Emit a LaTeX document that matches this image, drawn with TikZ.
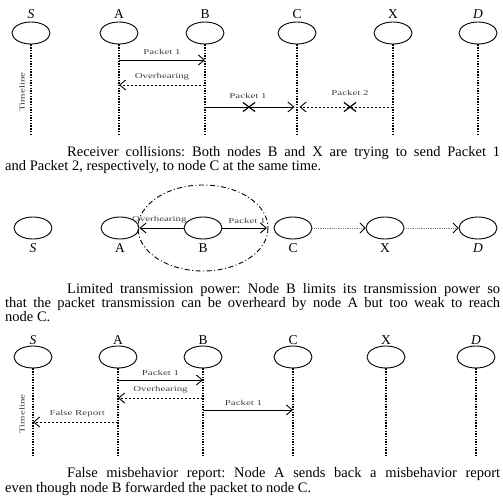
\documentclass[tikz,border=0pt]{standalone}
\usepackage{fontspec}
\usepackage{graphicx}
\setmainfont{Liberation Serif}
\usetikzlibrary{arrows.meta,shapes.geometric,shapes.misc}
\newcommand{\msgtext}[1]{\scalebox{1.45}[1]{\fontsize{7.5}{8}\selectfont #1}}
\frenchspacing
\begin{document}
\begin{tikzpicture}[x=1pt,y=-1pt,
  peer/.style={ellipse,draw,line width=0.9pt,minimum width=38pt,minimum height=22pt,inner sep=0pt},
  tag/.style={font=\fontsize{13.5}{13.5}\selectfont,inner sep=0pt},
  life/.style={line width=1.3pt,dash pattern=on 1.4pt off 1.3pt},
  tip/.style={-{Straight Barb[length=6pt,width=10pt,line width=0.9pt]}},
  msg/.style={tip,line width=0.9pt},
  dmsg/.style={tip,line width=0.9pt,dash pattern=on 2.5pt off 1.5pt},
  hop/.style={line width=0.8pt,gray,densely dotted,-{Straight Barb[length=5pt,width=10pt,line width=0.8pt,black]}},
  lbl/.style={inner sep=0pt,text=black!75},
  jam/.style={cross out,draw,line width=1.2pt,minimum width=11pt,minimum height=8pt,inner sep=0pt},
  note/.style={anchor=north west,inner sep=0pt,text width=495pt,align=justify,font=\fontsize{14.5}{14}\selectfont},
  timeline/.style={inner sep=0pt,rotate=90,text=black!75}
]
\useasboundingbox (0,0) rectangle (503,495);

% ---------- receiver collisions ----------
\foreach \n/\x/\t in {S/31/\textit{S},A/119/A,B/205/B,C/297/C,X/393/X,D/478/\textit{D}} {
  \node[tag] (t1\n) at (\x,14) {\t};
  \node[peer] (n1\n) at (\x,33) {};
  \coordinate (e1\n) at (\x,135);
  \draw[life] (n1\n.south) -- (e1\n);
}
\node[timeline] (tl1) at (22,92) {\msgtext{Timeline}};

\coordinate (m1a) at (119,60);  \coordinate (m1b) at (205,60);
\draw[msg] (m1a) -- node[lbl,above=5pt] (l1a) {\msgtext{Packet 1}} (m1b);
\coordinate (m2b) at (205,85);  \coordinate (m2a) at (119,85);
\draw[dmsg] (m2b) -- node[lbl,above=4pt] (l1b) {\msgtext{Overhearing}} (m2a);
\coordinate (m3b) at (205,107); \coordinate (m3c) at (294.5,107);
\draw[msg] (m3b) -- (m3c);
\node[jam] (x1) at (249,107) {};
\node[lbl] (l1c) at (248,96) {\msgtext{Packet 1}};
\coordinate (m4x) at (393,107); \coordinate (m4c) at (299.5,107);
\draw[dmsg] (m4x) -- (m4c);
\node[jam] (x2) at (350,107) {};
\node[lbl] (l1d) at (350,93) {\msgtext{Packet 2}};

\node[note] (cap1) at (5,146) {\hspace*{62pt}Receiver collisions: Both nodes B and X are trying to send Packet 1\linebreak and Packet 2, respectively, to node C at the same time.};

% ---------- limited transmission power ----------
\foreach \n/\x/\t in {S/33/\textit{S},A/120/A,B/203/B,C/293/C,X/385/X,D/478/\textit{D}} {
  \node[peer] (n2\n) at (\x,228) {};
  \node[tag] (t2\n) at (\x,248) {\t};
}
\draw[line width=0.9pt,dash pattern=on 5pt off 2.5pt on 1pt off 2.5pt] (n2B) ellipse [x radius=65, y radius=43];
\coordinate (reach) at (267,228);
\draw[msg] (n2B.east) -- node[lbl,above=4pt,pos=0.55] (l2a) {\msgtext{Packet 1}} (reach);
\draw[msg] (n2B.west) -- node[lbl,above=4pt,pos=0.55] (l2b) {\msgtext{Overhearing}} (n2A.east);
\draw[hop] (n2C.east) -- (n2X.west);
\draw[hop] (n2X.east) -- (n2D.west);

\node[note] (cap2) at (5,283) {\hspace*{62pt}Limited transmission power: Node B limits its transmission power so\linebreak that the packet transmission can be overheard by node A but too weak to reach\linebreak node C.};

% ---------- false misbehavior report ----------
\foreach \n/\x/\t in {S/33/\textit{S},A/118/A,B/203/B,C/293/C,X/386/X,D/476/\textit{D}} {
  \node[tag] (t3\n) at (\x,340) {\t};
  \node[peer] (n3\n) at (\x,357) {};
  \coordinate (e3\n) at (\x,457);
  \draw[life] (n3\n.south) -- (e3\n);
}
\node[timeline] (tl3) at (22,414) {\msgtext{Timeline}};

\coordinate (k1a) at (118,380); \coordinate (k1b) at (203,380);
\draw[msg] (k1a) -- node[lbl,above=4pt] (l3a) {\msgtext{Packet 1}} (k1b);
\coordinate (k2b) at (203,398); \coordinate (k2a) at (118,398);
\draw[dmsg] (k2b) -- node[lbl,above=4pt] (l3b) {\msgtext{Overhearing}} (k2a);
\coordinate (k3b) at (203,410); \coordinate (k3c) at (293,410);
\draw[msg] (k3b) -- node[lbl,above=4pt,pos=0.45] (l3c) {\msgtext{Packet 1}} (k3c);
\coordinate (k4a) at (118,422); \coordinate (k4s) at (33,422);
\draw[dmsg] (k4a) -- node[lbl,above=4pt,pos=0.48] (l3d) {\msgtext{False Report}} (k4s);

\node[note,font=\fontsize{14.5}{13}\selectfont] (cap3) at (5,467.5) {\hspace*{62pt}False misbehavior report: Node A sends back a misbehavior report\linebreak even though node B forwarded the packet to node C.};
\end{tikzpicture}
\end{document}
